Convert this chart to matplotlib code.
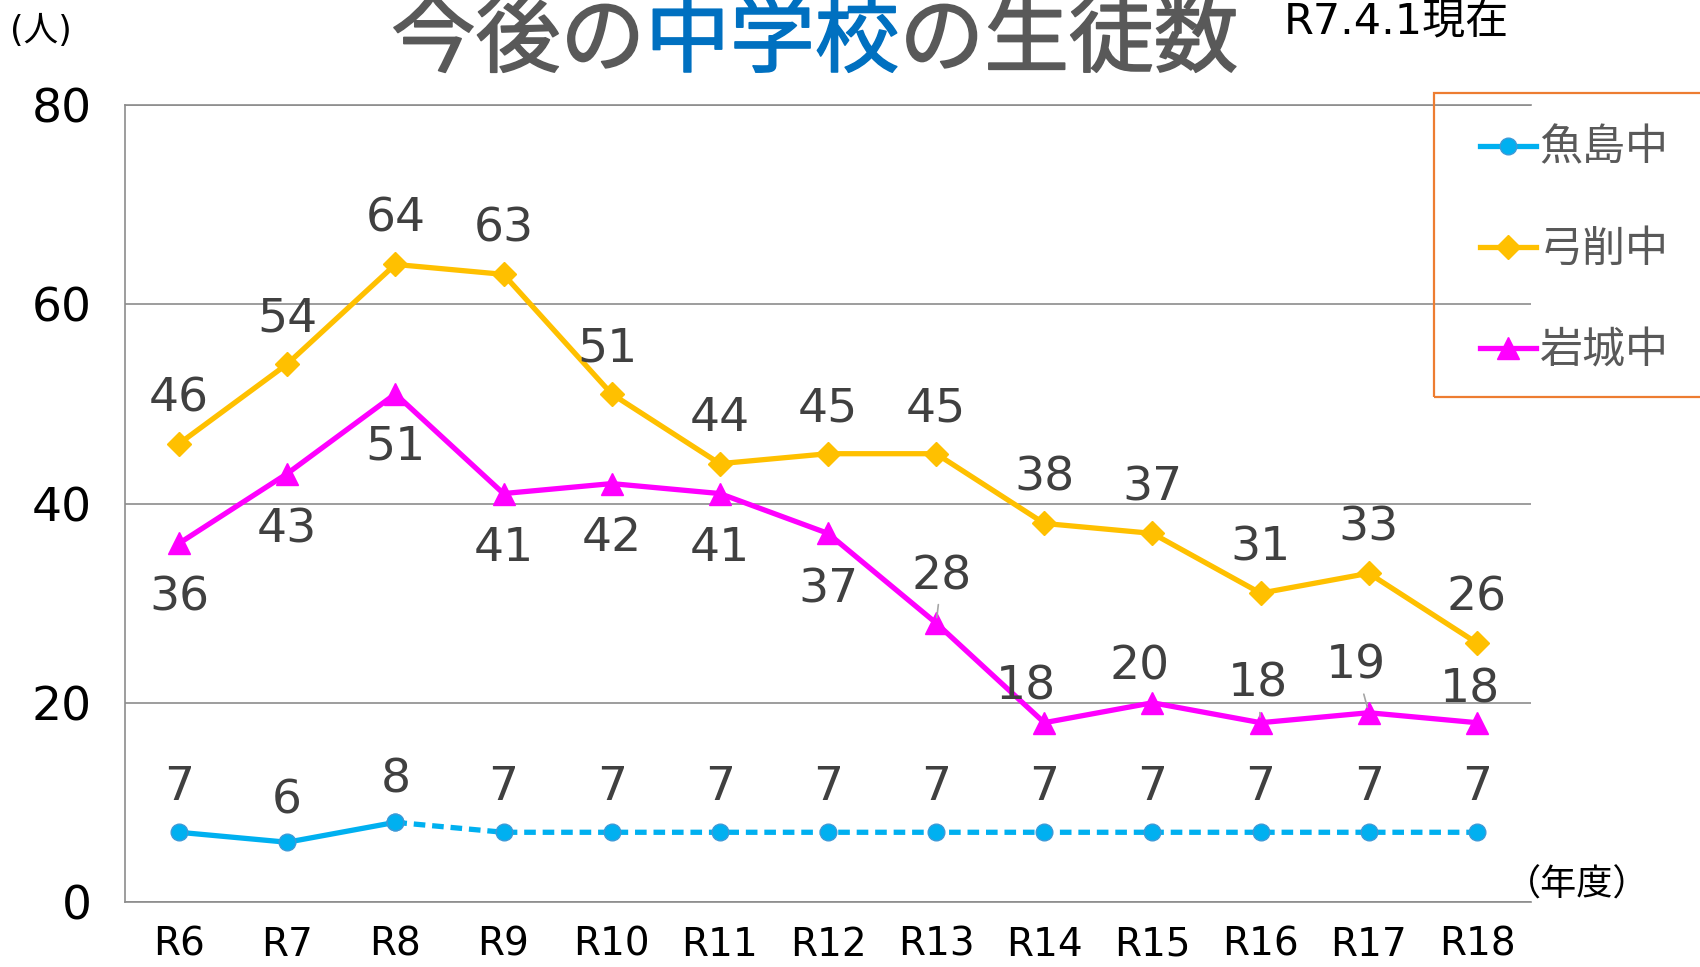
import matplotlib
matplotlib.use("Agg")
import matplotlib.pyplot as plt
from matplotlib.patches import Rectangle
import matplotlib.patheffects as pe

plt.rcParams['font.family'] = ['DejaVu Sans', 'Noto Sans CJK JP']
CJK = ['Noto Sans CJK JP', 'DejaVu Sans']

# data (R7.4.1 time point)
years = ['R6', 'R7', 'R8', 'R9', 'R10', 'R11', 'R12', 'R13', 'R14', 'R15', 'R16', 'R17', 'R18']
uoshima = [7, 6, 8, 7, 7, 7, 7, 7, 7, 7, 7, 7, 7]
yuge = [46, 54, 64, 63, 51, 44, 45, 45, 38, 37, 31, 33, 26]
iwagi = [36, 43, 51, 41, 42, 41, 37, 28, 18, 20, 18, 19, 18]
names = ['魚島中', '弓削中', '岩城中']

c_uo = '#00B0F0'
c_yu = '#FFC000'
c_iw = '#FF00FF'
grid_c = '#8C8C8C'
lab_c = '#404040'

fig = plt.figure(figsize=(17, 9.67), dpi=100)
ax = fig.add_axes([0.0735, 0.0672, 0.8271, 0.8242])
x = list(range(len(years)))

# lines
l_uo, = ax.plot(x[:3], uoshima[:3], color=c_uo, lw=3.8, marker='o', ms=12,
                mec='#3C9AD8', mew=1, zorder=3)
ax.plot(x[2:], uoshima[2:], color=c_uo, lw=3.8, ls=(0, (2.2, 1.3)), marker='o', ms=12,
        mec='#3C9AD8', mew=1, zorder=3)
l_yu, = ax.plot(x, yuge, color=c_yu, lw=3.8, marker='D', ms=12, zorder=3)
l_iw, = ax.plot(x, iwagi, color=c_iw, lw=3.8, marker='^', ms=16, zorder=3)

# data labels: offsets (points) of label centre from the point
fs_lab = 34
def put_labels(vals, offs, leaders=()):
    for i, v in enumerate(vals):
        dx, dy = offs[i]
        kw = {}
        if i in leaders:
            kw['arrowprops'] = dict(arrowstyle='-', color='#A6A6A6', lw=1.2,
                                    shrinkA=2, shrinkB=4)
        ax.annotate(str(v), xy=(i, v), xytext=(dx, dy - 12.5), textcoords='offset points',
                    ha='center', va='baseline', fontsize=fs_lab, color=lab_c,
                    annotation_clip=False, **kw)

put_labels(yuge, [(0, 36)] * 4 + [(-3, 36)] + [(0, 36)] * 8)
put_labels(iwagi, [(0, -36), (0, -37), (0, -35), (0, -36), (0, -36), (0, -36), (0, -37),
                   (4, 37), (-13, 29), (-9, 29), (-2, 31), (-9, 37), (-5, 27)],
           leaders=(7, 10, 11))
put_labels(uoshima, [(0, 36), (0, 33), (0, 34)] + [(0, 36)] * 10)

# axes styling
ax.set_xlim(-0.5, len(years) - 0.5)
ax.set_ylim(0, 80)
ax.set_yticks([0, 20, 40, 60, 80])
ax.set_xticks(x)
ax.set_xticklabels(years)
ax.tick_params(axis='x', length=0, pad=17, labelsize=28, labelcolor='black')
ax.tick_params(axis='y', length=0, pad=24, labelsize=34, labelcolor='black')
ax.grid(axis='y', color=grid_c, lw=1.2)
ax.set_axisbelow(True)
for s in ['left', 'bottom', 'top']:
    ax.spines[s].set_color(grid_c)
    ax.spines[s].set_linewidth(1.2)
ax.spines['right'].set_visible(False)

# title in three colour runs (regular weight, thickened a little)
def thick(c):
    return [pe.withStroke(linewidth=1.2, foreground=c)]

t1 = fig.text(391 / 1700, 1 - 41 / 967, '今後の', fontsize=61, color='#595959',
              va='center', ha='left', family=CJK, path_effects=thick('#595959'))
t2 = ax.annotate('中学校', xy=(1, 0.5), xycoords=t1, va='center', ha='left',
                 fontsize=61, color='#0070C0', family=CJK,
                 path_effects=thick('#0070C0'), annotation_clip=False)
ax.annotate('の生徒数', xy=(1, 0.5), xycoords=t2, va='center', ha='left',
            fontsize=61, color='#595959', family=CJK,
            path_effects=thick('#595959'), annotation_clip=False)

fig.text(1284 / 1700, 1 - 22 / 967, 'R7.4.1現在', fontsize=31, color='black',
         va='center', ha='left')
fig.text(10 / 1700, 1 - 31 / 967, '(人)', fontsize=25, color='black',
         va='center', ha='left')
fig.text(1577 / 1700, 1 - 886 / 967, '（年度）', fontsize=26, color='black',
         va='center', ha='center', family=CJK)

# legend with orange box running off the right edge
fig.add_artist(Rectangle((1434 / 1700, 1 - 397 / 967), 0.2, (397 - 93) / 967,
                         transform=fig.transFigure, fill=False, ec='#ED7D31', lw=1.6))
ax.legend([l_uo, l_yu, l_iw], names, loc='center left',
          bbox_to_anchor=(1458 / 1700, 1 - 250 / 967), bbox_transform=fig.transFigure,
          frameon=False, borderpad=0, handlelength=1.3, handletextpad=0.1,
          labelspacing=1.33, prop={'family': CJK, 'size': 31}, labelcolor='#595959')

fig.savefig('out.png', dpi=100)
